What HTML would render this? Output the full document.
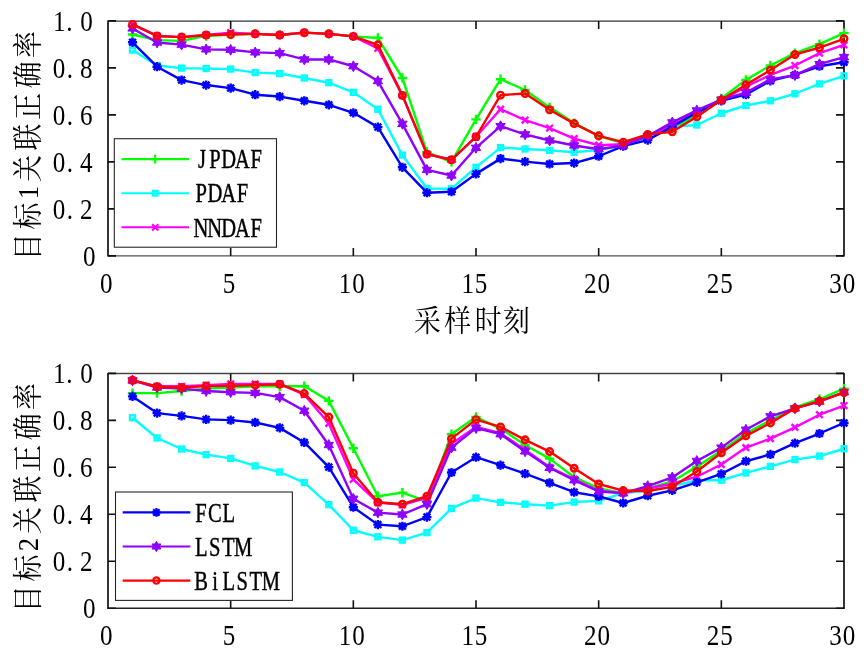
<!DOCTYPE html>
<html><head><meta charset="utf-8"><title>chart</title><style>html,body{margin:0;padding:0;background:#fff;}svg{display:block;}</style></head><body>
<svg width="868" height="657" viewBox="0 0 868 657">
<rect width="868" height="657" fill="#fff"/>
<g font-family="'Liberation Serif', serif" font-size="28.5" fill="#000">
<path d="M108.0 21.1H844.0" stroke="#333" stroke-width="1.3" fill="none"/>
<path d="M108.0 255.9H844.0" stroke="#555" stroke-width="1.4" fill="none"/>
<path d="M108.0 20.5V256.6M844.0 20.5V256.6" stroke="#111" stroke-width="1.7" fill="none"/>
<path d="M230.67 255.9V247.9M230.67 21.1V29.1M353.33 255.9V247.9M353.33 21.1V29.1M476 255.9V247.9M476 21.1V29.1M598.67 255.9V247.9M598.67 21.1V29.1M721.33 255.9V247.9M721.33 21.1V29.1M108.0 255.9H116.0M844.0 255.9H836.0M108.0 208.9H116.0M844.0 208.9H836.0M108.0 161.9H116.0M844.0 161.9H836.0M108.0 114.9H116.0M844.0 114.9H836.0M108.0 67.9H116.0M844.0 67.9H836.0M108.0 20.9H116.0M844.0 20.9H836.0" stroke="#111" stroke-width="1.6" fill="none"/>
<polyline points="132.53,34.53 157.07,40.17 181.6,40.88 206.13,35.94 230.67,34.53 255.2,33.83 279.73,35 304.27,32.65 328.8,33.83 353.33,36.41 377.87,38.06 402.4,78 426.93,152.03 451.47,161.9 476,119.37 500.53,79.18 525.07,89.99 549.6,107.38 574.13,123.13 598.67,136.05 623.2,143.1 647.73,136.05 672.27,129 696.8,114.9 721.33,98.45 745.87,79.89 770.4,65.55 794.93,53.09 819.47,44.16 844,33.12" fill="none" stroke="#00ff00" stroke-width="2.4" stroke-linejoin="round"/>
<path d="M127.83 34.53H137.23M132.53 29.83V39.23" stroke="#00ff00" stroke-width="2.4" fill="none"/>
<path d="M152.37 40.17H161.77M157.07 35.47V44.87" stroke="#00ff00" stroke-width="2.4" fill="none"/>
<path d="M176.9 40.88H186.3M181.6 36.17V45.58" stroke="#00ff00" stroke-width="2.4" fill="none"/>
<path d="M201.43 35.94H210.83M206.13 31.24V40.64" stroke="#00ff00" stroke-width="2.4" fill="none"/>
<path d="M225.97 34.53H235.37M230.67 29.83V39.23" stroke="#00ff00" stroke-width="2.4" fill="none"/>
<path d="M250.5 33.83H259.9M255.2 29.13V38.53" stroke="#00ff00" stroke-width="2.4" fill="none"/>
<path d="M275.03 35H284.43M279.73 30.3V39.7" stroke="#00ff00" stroke-width="2.4" fill="none"/>
<path d="M299.57 32.65H308.97M304.27 27.95V37.35" stroke="#00ff00" stroke-width="2.4" fill="none"/>
<path d="M324.1 33.83H333.5M328.8 29.13V38.53" stroke="#00ff00" stroke-width="2.4" fill="none"/>
<path d="M348.63 36.41H358.03M353.33 31.71V41.11" stroke="#00ff00" stroke-width="2.4" fill="none"/>
<path d="M373.17 38.06H382.57M377.87 33.36V42.76" stroke="#00ff00" stroke-width="2.4" fill="none"/>
<path d="M397.7 78H407.1M402.4 73.3V82.7" stroke="#00ff00" stroke-width="2.4" fill="none"/>
<path d="M422.23 152.03H431.63M426.93 147.33V156.73" stroke="#00ff00" stroke-width="2.4" fill="none"/>
<path d="M446.77 161.9H456.17M451.47 157.2V166.6" stroke="#00ff00" stroke-width="2.4" fill="none"/>
<path d="M471.3 119.37H480.7M476 114.67V124.07" stroke="#00ff00" stroke-width="2.4" fill="none"/>
<path d="M495.83 79.18H505.23M500.53 74.48V83.88" stroke="#00ff00" stroke-width="2.4" fill="none"/>
<path d="M520.37 89.99H529.77M525.07 85.29V94.69" stroke="#00ff00" stroke-width="2.4" fill="none"/>
<path d="M544.9 107.38H554.3M549.6 102.68V112.08" stroke="#00ff00" stroke-width="2.4" fill="none"/>
<path d="M569.43 123.13H578.83M574.13 118.43V127.83" stroke="#00ff00" stroke-width="2.4" fill="none"/>
<path d="M593.97 136.05H603.37M598.67 131.35V140.75" stroke="#00ff00" stroke-width="2.4" fill="none"/>
<path d="M618.5 143.1H627.9M623.2 138.4V147.8" stroke="#00ff00" stroke-width="2.4" fill="none"/>
<path d="M643.03 136.05H652.43M647.73 131.35V140.75" stroke="#00ff00" stroke-width="2.4" fill="none"/>
<path d="M667.57 129H676.97M672.27 124.3V133.7" stroke="#00ff00" stroke-width="2.4" fill="none"/>
<path d="M692.1 114.9H701.5M696.8 110.2V119.6" stroke="#00ff00" stroke-width="2.4" fill="none"/>
<path d="M716.63 98.45H726.03M721.33 93.75V103.15" stroke="#00ff00" stroke-width="2.4" fill="none"/>
<path d="M741.17 79.89H750.57M745.87 75.19V84.59" stroke="#00ff00" stroke-width="2.4" fill="none"/>
<path d="M765.7 65.55H775.1M770.4 60.85V70.25" stroke="#00ff00" stroke-width="2.4" fill="none"/>
<path d="M790.23 53.09H799.63M794.93 48.39V57.8" stroke="#00ff00" stroke-width="2.4" fill="none"/>
<path d="M814.77 44.16H824.17M819.47 39.46V48.86" stroke="#00ff00" stroke-width="2.4" fill="none"/>
<path d="M839.3 33.12H848.7M844 28.42V37.82" stroke="#00ff00" stroke-width="2.4" fill="none"/>
<polyline points="132.53,50.04 157.07,65.55 181.6,68.13 206.13,68.6 230.67,69.07 255.2,72.6 279.73,73.54 304.27,78 328.8,82.71 353.33,92.34 377.87,109.26 402.4,155.09 426.93,188.46 451.47,188.69 476,167.31 500.53,147.56 525.07,148.98 549.6,150.38 574.13,152.26 598.67,150.15 623.2,145.45 647.73,138.4 672.27,126.65 696.8,125 721.33,113.25 745.87,105.5 770.4,100.8 794.93,93.75 819.47,83.88 844,75.89" fill="none" stroke="#00ffff" stroke-width="2.4" stroke-linejoin="round"/>
<rect x="130.08" y="47.59" width="4.9" height="4.9" stroke="#00ffff" stroke-width="2.4" fill="none"/>
<rect x="154.62" y="63.1" width="4.9" height="4.9" stroke="#00ffff" stroke-width="2.4" fill="none"/>
<rect x="179.15" y="65.68" width="4.9" height="4.9" stroke="#00ffff" stroke-width="2.4" fill="none"/>
<rect x="203.68" y="66.15" width="4.9" height="4.9" stroke="#00ffff" stroke-width="2.4" fill="none"/>
<rect x="228.22" y="66.62" width="4.9" height="4.9" stroke="#00ffff" stroke-width="2.4" fill="none"/>
<rect x="252.75" y="70.15" width="4.9" height="4.9" stroke="#00ffff" stroke-width="2.4" fill="none"/>
<rect x="277.28" y="71.09" width="4.9" height="4.9" stroke="#00ffff" stroke-width="2.4" fill="none"/>
<rect x="301.82" y="75.55" width="4.9" height="4.9" stroke="#00ffff" stroke-width="2.4" fill="none"/>
<rect x="326.35" y="80.26" width="4.9" height="4.9" stroke="#00ffff" stroke-width="2.4" fill="none"/>
<rect x="350.88" y="89.89" width="4.9" height="4.9" stroke="#00ffff" stroke-width="2.4" fill="none"/>
<rect x="375.42" y="106.81" width="4.9" height="4.9" stroke="#00ffff" stroke-width="2.4" fill="none"/>
<rect x="399.95" y="152.64" width="4.9" height="4.9" stroke="#00ffff" stroke-width="2.4" fill="none"/>
<rect x="424.48" y="186.01" width="4.9" height="4.9" stroke="#00ffff" stroke-width="2.4" fill="none"/>
<rect x="449.02" y="186.24" width="4.9" height="4.9" stroke="#00ffff" stroke-width="2.4" fill="none"/>
<rect x="473.55" y="164.86" width="4.9" height="4.9" stroke="#00ffff" stroke-width="2.4" fill="none"/>
<rect x="498.08" y="145.12" width="4.9" height="4.9" stroke="#00ffff" stroke-width="2.4" fill="none"/>
<rect x="522.62" y="146.53" width="4.9" height="4.9" stroke="#00ffff" stroke-width="2.4" fill="none"/>
<rect x="547.15" y="147.94" width="4.9" height="4.9" stroke="#00ffff" stroke-width="2.4" fill="none"/>
<rect x="571.68" y="149.81" width="4.9" height="4.9" stroke="#00ffff" stroke-width="2.4" fill="none"/>
<rect x="596.22" y="147.7" width="4.9" height="4.9" stroke="#00ffff" stroke-width="2.4" fill="none"/>
<rect x="620.75" y="143" width="4.9" height="4.9" stroke="#00ffff" stroke-width="2.4" fill="none"/>
<rect x="645.28" y="135.95" width="4.9" height="4.9" stroke="#00ffff" stroke-width="2.4" fill="none"/>
<rect x="669.82" y="124.2" width="4.9" height="4.9" stroke="#00ffff" stroke-width="2.4" fill="none"/>
<rect x="694.35" y="122.55" width="4.9" height="4.9" stroke="#00ffff" stroke-width="2.4" fill="none"/>
<rect x="718.88" y="110.8" width="4.9" height="4.9" stroke="#00ffff" stroke-width="2.4" fill="none"/>
<rect x="743.42" y="103.05" width="4.9" height="4.9" stroke="#00ffff" stroke-width="2.4" fill="none"/>
<rect x="767.95" y="98.35" width="4.9" height="4.9" stroke="#00ffff" stroke-width="2.4" fill="none"/>
<rect x="792.48" y="91.3" width="4.9" height="4.9" stroke="#00ffff" stroke-width="2.4" fill="none"/>
<rect x="817.02" y="81.43" width="4.9" height="4.9" stroke="#00ffff" stroke-width="2.4" fill="none"/>
<rect x="841.55" y="73.44" width="4.9" height="4.9" stroke="#00ffff" stroke-width="2.4" fill="none"/>
<polyline points="132.53,24.43 157.07,35.94 181.6,37.11 206.13,35 230.67,32.65 255.2,33.83 279.73,35 304.27,32.65 328.8,33.83 353.33,36.41 377.87,48.4 402.4,95.39 426.93,154.15 451.47,159.79 476,136.75 500.53,109.26 525.07,120.07 549.6,128.06 574.13,138.63 598.67,145.22 623.2,144.28 647.73,136.05 672.27,125 696.8,112.55 721.33,100.33 745.87,86.7 770.4,74.95 794.93,65.55 819.47,53.09 844,44.87" fill="none" stroke="#ff00ff" stroke-width="2.4" stroke-linejoin="round"/>
<path d="M129.23 21.13L135.83 27.73M129.23 27.73L135.83 21.13" stroke="#ff00ff" stroke-width="2.4" fill="none"/>
<path d="M153.77 32.64L160.37 39.24M153.77 39.24L160.37 32.64" stroke="#ff00ff" stroke-width="2.4" fill="none"/>
<path d="M178.3 33.81L184.9 40.41M178.3 40.41L184.9 33.81" stroke="#ff00ff" stroke-width="2.4" fill="none"/>
<path d="M202.83 31.7L209.43 38.3M202.83 38.3L209.43 31.7" stroke="#ff00ff" stroke-width="2.4" fill="none"/>
<path d="M227.37 29.35L233.97 35.95M227.37 35.95L233.97 29.35" stroke="#ff00ff" stroke-width="2.4" fill="none"/>
<path d="M251.9 30.53L258.5 37.13M251.9 37.13L258.5 30.53" stroke="#ff00ff" stroke-width="2.4" fill="none"/>
<path d="M276.43 31.7L283.03 38.3M276.43 38.3L283.03 31.7" stroke="#ff00ff" stroke-width="2.4" fill="none"/>
<path d="M300.97 29.35L307.57 35.95M300.97 35.95L307.57 29.35" stroke="#ff00ff" stroke-width="2.4" fill="none"/>
<path d="M325.5 30.53L332.1 37.13M325.5 37.13L332.1 30.53" stroke="#ff00ff" stroke-width="2.4" fill="none"/>
<path d="M350.03 33.11L356.63 39.71M350.03 39.71L356.63 33.11" stroke="#ff00ff" stroke-width="2.4" fill="none"/>
<path d="M374.57 45.1L381.17 51.7M374.57 51.7L381.17 45.1" stroke="#ff00ff" stroke-width="2.4" fill="none"/>
<path d="M399.1 92.09L405.7 98.69M399.1 98.69L405.7 92.09" stroke="#ff00ff" stroke-width="2.4" fill="none"/>
<path d="M423.63 150.84L430.23 157.45M423.63 157.45L430.23 150.84" stroke="#ff00ff" stroke-width="2.4" fill="none"/>
<path d="M448.17 156.49L454.77 163.09M448.17 163.09L454.77 156.49" stroke="#ff00ff" stroke-width="2.4" fill="none"/>
<path d="M472.7 133.45L479.3 140.06M472.7 140.06L479.3 133.45" stroke="#ff00ff" stroke-width="2.4" fill="none"/>
<path d="M497.23 105.96L503.83 112.56M497.23 112.56L503.83 105.96" stroke="#ff00ff" stroke-width="2.4" fill="none"/>
<path d="M521.77 116.77L528.37 123.37M521.77 123.37L528.37 116.77" stroke="#ff00ff" stroke-width="2.4" fill="none"/>
<path d="M546.3 124.76L552.9 131.36M546.3 131.36L552.9 124.76" stroke="#ff00ff" stroke-width="2.4" fill="none"/>
<path d="M570.83 135.33L577.43 141.94M570.83 141.94L577.43 135.33" stroke="#ff00ff" stroke-width="2.4" fill="none"/>
<path d="M595.37 141.92L601.97 148.52M595.37 148.52L601.97 141.92" stroke="#ff00ff" stroke-width="2.4" fill="none"/>
<path d="M619.9 140.97L626.5 147.58M619.9 147.58L626.5 140.97" stroke="#ff00ff" stroke-width="2.4" fill="none"/>
<path d="M644.43 132.75L651.03 139.35M644.43 139.35L651.03 132.75" stroke="#ff00ff" stroke-width="2.4" fill="none"/>
<path d="M668.97 121.7L675.57 128.31M668.97 128.31L675.57 121.7" stroke="#ff00ff" stroke-width="2.4" fill="none"/>
<path d="M693.5 109.25L700.1 115.85M693.5 115.85L700.1 109.25" stroke="#ff00ff" stroke-width="2.4" fill="none"/>
<path d="M718.03 97.03L724.63 103.63M718.03 103.63L724.63 97.03" stroke="#ff00ff" stroke-width="2.4" fill="none"/>
<path d="M742.57 83.4L749.17 90M742.57 90L749.17 83.4" stroke="#ff00ff" stroke-width="2.4" fill="none"/>
<path d="M767.1 71.65L773.7 78.25M767.1 78.25L773.7 71.65" stroke="#ff00ff" stroke-width="2.4" fill="none"/>
<path d="M791.63 62.25L798.23 68.85M791.63 68.85L798.23 62.25" stroke="#ff00ff" stroke-width="2.4" fill="none"/>
<path d="M816.17 49.8L822.77 56.39M816.17 56.39L822.77 49.8" stroke="#ff00ff" stroke-width="2.4" fill="none"/>
<path d="M840.7 41.57L847.3 48.17M840.7 48.17L847.3 41.57" stroke="#ff00ff" stroke-width="2.4" fill="none"/>
<polyline points="132.53,42.28 157.07,66.72 181.6,80.12 206.13,85.06 230.67,88.11 255.2,94.69 279.73,96.57 304.27,100.8 328.8,104.8 353.33,112.78 377.87,127.12 402.4,167.31 426.93,192.69 451.47,191.75 476,173.88 500.53,158.61 525.07,161.67 549.6,164.01 574.13,163.07 598.67,156.26 623.2,146.16 647.73,140.05 672.27,126.65 696.8,112.55 721.33,100.8 745.87,94.69 770.4,80.83 794.93,74.95 819.47,66.25 844,62.26" fill="none" stroke="#0000ff" stroke-width="2.4" stroke-linejoin="round"/>
<path d="M127.93 42.28H137.13M132.53 37.68V46.88M129.13 38.88L135.93 45.68M129.13 45.68L135.93 38.88" stroke="#0000ff" stroke-width="2.4" fill="none"/>
<path d="M152.47 66.72H161.67M157.07 62.12V71.32M153.67 63.32L160.47 70.12M153.67 70.12L160.47 63.32" stroke="#0000ff" stroke-width="2.4" fill="none"/>
<path d="M177 80.12H186.2M181.6 75.52V84.72M178.2 76.72L185 83.52M178.2 83.52L185 76.72" stroke="#0000ff" stroke-width="2.4" fill="none"/>
<path d="M201.53 85.06H210.73M206.13 80.46V89.66M202.73 81.66L209.53 88.46M202.73 88.46L209.53 81.66" stroke="#0000ff" stroke-width="2.4" fill="none"/>
<path d="M226.07 88.11H235.27M230.67 83.51V92.71M227.27 84.71L234.07 91.51M227.27 91.51L234.07 84.71" stroke="#0000ff" stroke-width="2.4" fill="none"/>
<path d="M250.6 94.69H259.8M255.2 90.09V99.29M251.8 91.29L258.6 98.09M251.8 98.09L258.6 91.29" stroke="#0000ff" stroke-width="2.4" fill="none"/>
<path d="M275.13 96.57H284.33M279.73 91.97V101.17M276.33 93.17L283.13 99.97M276.33 99.97L283.13 93.17" stroke="#0000ff" stroke-width="2.4" fill="none"/>
<path d="M299.67 100.8H308.87M304.27 96.2V105.4M300.87 97.4L307.67 104.2M300.87 104.2L307.67 97.4" stroke="#0000ff" stroke-width="2.4" fill="none"/>
<path d="M324.2 104.8H333.4M328.8 100.2V109.4M325.4 101.4L332.2 108.2M325.4 108.2L332.2 101.4" stroke="#0000ff" stroke-width="2.4" fill="none"/>
<path d="M348.73 112.78H357.93M353.33 108.19V117.38M349.93 109.38L356.73 116.19M349.93 116.19L356.73 109.38" stroke="#0000ff" stroke-width="2.4" fill="none"/>
<path d="M373.27 127.12H382.47M377.87 122.52V131.72M374.47 123.72L381.27 130.52M374.47 130.52L381.27 123.72" stroke="#0000ff" stroke-width="2.4" fill="none"/>
<path d="M397.8 167.31H407M402.4 162.71V171.91M399 163.91L405.8 170.71M399 170.71L405.8 163.91" stroke="#0000ff" stroke-width="2.4" fill="none"/>
<path d="M422.33 192.69H431.53M426.93 188.09V197.28M423.53 189.28L430.33 196.09M423.53 196.09L430.33 189.28" stroke="#0000ff" stroke-width="2.4" fill="none"/>
<path d="M446.87 191.75H456.07M451.47 187.15V196.34M448.07 188.34L454.87 195.15M448.07 195.15L454.87 188.34" stroke="#0000ff" stroke-width="2.4" fill="none"/>
<path d="M471.4 173.88H480.6M476 169.28V178.48M472.6 170.48L479.4 177.28M472.6 177.28L479.4 170.48" stroke="#0000ff" stroke-width="2.4" fill="none"/>
<path d="M495.93 158.61H505.13M500.53 154.01V163.21M497.13 155.21L503.93 162.01M497.13 162.01L503.93 155.21" stroke="#0000ff" stroke-width="2.4" fill="none"/>
<path d="M520.47 161.67H529.67M525.07 157.07V166.27M521.67 158.27L528.47 165.07M521.67 165.07L528.47 158.27" stroke="#0000ff" stroke-width="2.4" fill="none"/>
<path d="M545 164.01H554.2M549.6 159.41V168.61M546.2 160.61L553 167.41M546.2 167.41L553 160.61" stroke="#0000ff" stroke-width="2.4" fill="none"/>
<path d="M569.53 163.07H578.73M574.13 158.47V167.67M570.73 159.67L577.53 166.47M570.73 166.47L577.53 159.67" stroke="#0000ff" stroke-width="2.4" fill="none"/>
<path d="M594.07 156.26H603.27M598.67 151.66V160.86M595.27 152.86L602.07 159.66M595.27 159.66L602.07 152.86" stroke="#0000ff" stroke-width="2.4" fill="none"/>
<path d="M618.6 146.16H627.8M623.2 141.56V150.75M619.8 142.75L626.6 149.56M619.8 149.56L626.6 142.75" stroke="#0000ff" stroke-width="2.4" fill="none"/>
<path d="M643.13 140.05H652.33M647.73 135.45V144.65M644.33 136.65L651.13 143.45M644.33 143.45L651.13 136.65" stroke="#0000ff" stroke-width="2.4" fill="none"/>
<path d="M667.67 126.65H676.87M672.27 122.05V131.25M668.87 123.25L675.67 130.05M668.87 130.05L675.67 123.25" stroke="#0000ff" stroke-width="2.4" fill="none"/>
<path d="M692.2 112.55H701.4M696.8 107.95V117.15M693.4 109.15L700.2 115.95M693.4 115.95L700.2 109.15" stroke="#0000ff" stroke-width="2.4" fill="none"/>
<path d="M716.73 100.8H725.93M721.33 96.2V105.4M717.93 97.4L724.73 104.2M717.93 104.2L724.73 97.4" stroke="#0000ff" stroke-width="2.4" fill="none"/>
<path d="M741.27 94.69H750.47M745.87 90.09V99.29M742.47 91.29L749.27 98.09M742.47 98.09L749.27 91.29" stroke="#0000ff" stroke-width="2.4" fill="none"/>
<path d="M765.8 80.83H775M770.4 76.23V85.43M767 77.43L773.8 84.23M767 84.23L773.8 77.43" stroke="#0000ff" stroke-width="2.4" fill="none"/>
<path d="M790.33 74.95H799.53M794.93 70.35V79.55M791.53 71.55L798.33 78.35M791.53 78.35L798.33 71.55" stroke="#0000ff" stroke-width="2.4" fill="none"/>
<path d="M814.87 66.25H824.07M819.47 61.65V70.85M816.07 62.85L822.87 69.66M816.07 69.66L822.87 62.85" stroke="#0000ff" stroke-width="2.4" fill="none"/>
<path d="M839.4 62.26H848.6M844 57.66V66.86M840.6 58.86L847.4 65.66M840.6 65.66L847.4 58.86" stroke="#0000ff" stroke-width="2.4" fill="none"/>
<polyline points="132.53,28.42 157.07,42.52 181.6,44.63 206.13,49.34 230.67,49.81 255.2,52.39 279.73,53.09 304.27,59.44 328.8,59.44 353.33,66.25 377.87,81.06 402.4,123.83 426.93,169.89 451.47,175.53 476,147.8 500.53,126.18 525.07,134.41 549.6,140.51 574.13,145.45 598.67,149.21 623.2,145.45 647.73,136.05 672.27,122.42 696.8,110.44 721.33,99.62 745.87,92.58 770.4,79.41 794.93,75.19 819.47,64.14 844,57.09" fill="none" stroke="#9000ff" stroke-width="2.4" stroke-linejoin="round"/>
<polygon points="132.53,23.02 134.03,25.82 137.21,25.72 135.53,28.42 137.21,31.12 134.03,31.02 132.53,33.82 131.03,31.02 127.86,31.12 129.53,28.42 127.86,25.72 131.03,25.82" fill="#9000ff" stroke="#9000ff" stroke-width="1"/>
<polygon points="157.07,37.12 158.57,39.92 161.74,39.82 160.07,42.52 161.74,45.22 158.57,45.12 157.07,47.92 155.57,45.12 152.39,45.22 154.07,42.52 152.39,39.82 155.57,39.92" fill="#9000ff" stroke="#9000ff" stroke-width="1"/>
<polygon points="181.6,39.23 183.1,42.04 186.28,41.93 184.6,44.63 186.28,47.33 183.1,47.23 181.6,50.03 180.1,47.23 176.92,47.33 178.6,44.63 176.92,41.93 180.1,42.04" fill="#9000ff" stroke="#9000ff" stroke-width="1"/>
<polygon points="206.13,43.94 207.63,46.74 210.81,46.64 209.13,49.34 210.81,52.04 207.63,51.93 206.13,54.74 204.63,51.93 201.46,52.04 203.13,49.34 201.46,46.64 204.63,46.74" fill="#9000ff" stroke="#9000ff" stroke-width="1"/>
<polygon points="230.67,44.41 232.17,47.21 235.34,47.11 233.67,49.81 235.34,52.51 232.17,52.4 230.67,55.21 229.17,52.4 225.99,52.51 227.67,49.81 225.99,47.11 229.17,47.21" fill="#9000ff" stroke="#9000ff" stroke-width="1"/>
<polygon points="255.2,46.99 256.7,49.79 259.88,49.69 258.2,52.39 259.88,55.09 256.7,54.99 255.2,57.79 253.7,54.99 250.52,55.09 252.2,52.39 250.52,49.69 253.7,49.79" fill="#9000ff" stroke="#9000ff" stroke-width="1"/>
<polygon points="279.73,47.7 281.23,50.5 284.41,50.39 282.73,53.09 284.41,55.8 281.23,55.69 279.73,58.49 278.23,55.69 275.06,55.8 276.73,53.09 275.06,50.39 278.23,50.5" fill="#9000ff" stroke="#9000ff" stroke-width="1"/>
<polygon points="304.27,54.04 305.77,56.84 308.94,56.74 307.27,59.44 308.94,62.14 305.77,62.04 304.27,64.84 302.77,62.04 299.59,62.14 301.27,59.44 299.59,56.74 302.77,56.84" fill="#9000ff" stroke="#9000ff" stroke-width="1"/>
<polygon points="328.8,54.04 330.3,56.84 333.48,56.74 331.8,59.44 333.48,62.14 330.3,62.04 328.8,64.84 327.3,62.04 324.12,62.14 325.8,59.44 324.12,56.74 327.3,56.84" fill="#9000ff" stroke="#9000ff" stroke-width="1"/>
<polygon points="353.33,60.85 354.83,63.66 358.01,63.55 356.33,66.25 358.01,68.95 354.83,68.85 353.33,71.66 351.83,68.85 348.66,68.95 350.33,66.25 348.66,63.55 351.83,63.66" fill="#9000ff" stroke="#9000ff" stroke-width="1"/>
<polygon points="377.87,75.66 379.37,78.46 382.54,78.36 380.87,81.06 382.54,83.76 379.37,83.66 377.87,86.46 376.37,83.66 373.19,83.76 374.87,81.06 373.19,78.36 376.37,78.46" fill="#9000ff" stroke="#9000ff" stroke-width="1"/>
<polygon points="402.4,118.43 403.9,121.23 407.08,121.13 405.4,123.83 407.08,126.53 403.9,126.43 402.4,129.23 400.9,126.43 397.72,126.53 399.4,123.83 397.72,121.13 400.9,121.23" fill="#9000ff" stroke="#9000ff" stroke-width="1"/>
<polygon points="426.93,164.49 428.43,167.29 431.61,167.19 429.93,169.89 431.61,172.59 428.43,172.49 426.93,175.29 425.43,172.49 422.26,172.59 423.93,169.89 422.26,167.19 425.43,167.29" fill="#9000ff" stroke="#9000ff" stroke-width="1"/>
<polygon points="451.47,170.13 452.97,172.93 456.14,172.83 454.47,175.53 456.14,178.23 452.97,178.13 451.47,180.93 449.97,178.13 446.79,178.23 448.47,175.53 446.79,172.83 449.97,172.93" fill="#9000ff" stroke="#9000ff" stroke-width="1"/>
<polygon points="476,142.4 477.5,145.2 480.68,145.1 479,147.8 480.68,150.5 477.5,150.4 476,153.2 474.5,150.4 471.32,150.5 473,147.8 471.32,145.1 474.5,145.2" fill="#9000ff" stroke="#9000ff" stroke-width="1"/>
<polygon points="500.53,120.78 502.03,123.58 505.21,123.48 503.53,126.18 505.21,128.88 502.03,128.78 500.53,131.58 499.03,128.78 495.86,128.88 497.53,126.18 495.86,123.48 499.03,123.58" fill="#9000ff" stroke="#9000ff" stroke-width="1"/>
<polygon points="525.07,129 526.57,131.81 529.74,131.71 528.07,134.41 529.74,137.1 526.57,137 525.07,139.81 523.57,137 520.39,137.1 522.07,134.41 520.39,131.71 523.57,131.81" fill="#9000ff" stroke="#9000ff" stroke-width="1"/>
<polygon points="549.6,135.11 551.1,137.92 554.28,137.81 552.6,140.51 554.28,143.21 551.1,143.11 549.6,145.91 548.1,143.11 544.92,143.21 546.6,140.51 544.92,137.81 548.1,137.92" fill="#9000ff" stroke="#9000ff" stroke-width="1"/>
<polygon points="574.13,140.05 575.63,142.85 578.81,142.75 577.13,145.45 578.81,148.15 575.63,148.05 574.13,150.85 572.63,148.05 569.46,148.15 571.13,145.45 569.46,142.75 572.63,142.85" fill="#9000ff" stroke="#9000ff" stroke-width="1"/>
<polygon points="598.67,143.81 600.17,146.61 603.34,146.51 601.67,149.21 603.34,151.91 600.17,151.81 598.67,154.61 597.17,151.81 593.99,151.91 595.67,149.21 593.99,146.51 597.17,146.61" fill="#9000ff" stroke="#9000ff" stroke-width="1"/>
<polygon points="623.2,140.05 624.7,142.85 627.88,142.75 626.2,145.45 627.88,148.15 624.7,148.05 623.2,150.85 621.7,148.05 618.52,148.15 620.2,145.45 618.52,142.75 621.7,142.85" fill="#9000ff" stroke="#9000ff" stroke-width="1"/>
<polygon points="647.73,130.65 649.23,133.45 652.41,133.35 650.73,136.05 652.41,138.75 649.23,138.65 647.73,141.45 646.23,138.65 643.06,138.75 644.73,136.05 643.06,133.35 646.23,133.45" fill="#9000ff" stroke="#9000ff" stroke-width="1"/>
<polygon points="672.27,117.02 673.77,119.82 676.94,119.72 675.27,122.42 676.94,125.12 673.77,125.02 672.27,127.82 670.77,125.02 667.59,125.12 669.27,122.42 667.59,119.72 670.77,119.82" fill="#9000ff" stroke="#9000ff" stroke-width="1"/>
<polygon points="696.8,105.03 698.3,107.84 701.48,107.73 699.8,110.44 701.48,113.14 698.3,113.03 696.8,115.84 695.3,113.03 692.12,113.14 693.8,110.44 692.12,107.73 695.3,107.84" fill="#9000ff" stroke="#9000ff" stroke-width="1"/>
<polygon points="721.33,94.22 722.83,97.03 726.01,96.92 724.33,99.62 726.01,102.33 722.83,102.22 721.33,105.03 719.83,102.22 716.66,102.33 718.33,99.62 716.66,96.92 719.83,97.03" fill="#9000ff" stroke="#9000ff" stroke-width="1"/>
<polygon points="745.87,87.18 747.37,89.98 750.54,89.88 748.87,92.58 750.54,95.28 747.37,95.17 745.87,97.98 744.37,95.17 741.19,95.28 742.87,92.58 741.19,89.88 744.37,89.98" fill="#9000ff" stroke="#9000ff" stroke-width="1"/>
<polygon points="770.4,74.01 771.9,76.82 775.08,76.71 773.4,79.41 775.08,82.11 771.9,82.01 770.4,84.81 768.9,82.01 765.72,82.11 767.4,79.41 765.72,76.71 768.9,76.82" fill="#9000ff" stroke="#9000ff" stroke-width="1"/>
<polygon points="794.93,69.78 796.43,72.59 799.61,72.48 797.93,75.19 799.61,77.89 796.43,77.78 794.93,80.59 793.43,77.78 790.26,77.89 791.93,75.19 790.26,72.48 793.43,72.59" fill="#9000ff" stroke="#9000ff" stroke-width="1"/>
<polygon points="819.47,58.74 820.97,61.54 824.14,61.44 822.47,64.14 824.14,66.84 820.97,66.74 819.47,69.54 817.97,66.74 814.79,66.84 816.47,64.14 814.79,61.44 817.97,61.54" fill="#9000ff" stroke="#9000ff" stroke-width="1"/>
<polygon points="844,51.69 845.5,54.49 848.68,54.39 847,57.09 848.68,59.79 845.5,59.69 844,62.49 842.5,59.69 839.32,59.79 841,57.09 839.32,54.39 842.5,54.49" fill="#9000ff" stroke="#9000ff" stroke-width="1"/>
<polyline points="132.53,24.43 157.07,35.94 181.6,37.11 206.13,35 230.67,34.53 255.2,33.83 279.73,35 304.27,32.65 328.8,33.83 353.33,36.41 377.87,44.87 402.4,95.39 426.93,154.15 451.47,159.79 476,136.75 500.53,95.16 525.07,93.52 549.6,109.73 574.13,123.6 598.67,135.81 623.2,142.16 647.73,134.41 672.27,131.82 696.8,116.78 721.33,100.09 745.87,84.82 770.4,70.01 794.93,54.5 819.47,47.69 844,38.76" fill="none" stroke="#ff0000" stroke-width="2.4" stroke-linejoin="round"/>
<circle cx="132.53" cy="24.43" r="3.3" stroke="#ff0000" stroke-width="2.4" fill="none"/>
<circle cx="157.07" cy="35.94" r="3.3" stroke="#ff0000" stroke-width="2.4" fill="none"/>
<circle cx="181.6" cy="37.11" r="3.3" stroke="#ff0000" stroke-width="2.4" fill="none"/>
<circle cx="206.13" cy="35" r="3.3" stroke="#ff0000" stroke-width="2.4" fill="none"/>
<circle cx="230.67" cy="34.53" r="3.3" stroke="#ff0000" stroke-width="2.4" fill="none"/>
<circle cx="255.2" cy="33.83" r="3.3" stroke="#ff0000" stroke-width="2.4" fill="none"/>
<circle cx="279.73" cy="35" r="3.3" stroke="#ff0000" stroke-width="2.4" fill="none"/>
<circle cx="304.27" cy="32.65" r="3.3" stroke="#ff0000" stroke-width="2.4" fill="none"/>
<circle cx="328.8" cy="33.83" r="3.3" stroke="#ff0000" stroke-width="2.4" fill="none"/>
<circle cx="353.33" cy="36.41" r="3.3" stroke="#ff0000" stroke-width="2.4" fill="none"/>
<circle cx="377.87" cy="44.87" r="3.3" stroke="#ff0000" stroke-width="2.4" fill="none"/>
<circle cx="402.4" cy="95.39" r="3.3" stroke="#ff0000" stroke-width="2.4" fill="none"/>
<circle cx="426.93" cy="154.15" r="3.3" stroke="#ff0000" stroke-width="2.4" fill="none"/>
<circle cx="451.47" cy="159.79" r="3.3" stroke="#ff0000" stroke-width="2.4" fill="none"/>
<circle cx="476" cy="136.75" r="3.3" stroke="#ff0000" stroke-width="2.4" fill="none"/>
<circle cx="500.53" cy="95.16" r="3.3" stroke="#ff0000" stroke-width="2.4" fill="none"/>
<circle cx="525.07" cy="93.52" r="3.3" stroke="#ff0000" stroke-width="2.4" fill="none"/>
<circle cx="549.6" cy="109.73" r="3.3" stroke="#ff0000" stroke-width="2.4" fill="none"/>
<circle cx="574.13" cy="123.6" r="3.3" stroke="#ff0000" stroke-width="2.4" fill="none"/>
<circle cx="598.67" cy="135.81" r="3.3" stroke="#ff0000" stroke-width="2.4" fill="none"/>
<circle cx="623.2" cy="142.16" r="3.3" stroke="#ff0000" stroke-width="2.4" fill="none"/>
<circle cx="647.73" cy="134.41" r="3.3" stroke="#ff0000" stroke-width="2.4" fill="none"/>
<circle cx="672.27" cy="131.82" r="3.3" stroke="#ff0000" stroke-width="2.4" fill="none"/>
<circle cx="696.8" cy="116.78" r="3.3" stroke="#ff0000" stroke-width="2.4" fill="none"/>
<circle cx="721.33" cy="100.09" r="3.3" stroke="#ff0000" stroke-width="2.4" fill="none"/>
<circle cx="745.87" cy="84.82" r="3.3" stroke="#ff0000" stroke-width="2.4" fill="none"/>
<circle cx="770.4" cy="70.01" r="3.3" stroke="#ff0000" stroke-width="2.4" fill="none"/>
<circle cx="794.93" cy="54.5" r="3.3" stroke="#ff0000" stroke-width="2.4" fill="none"/>
<circle cx="819.47" cy="47.69" r="3.3" stroke="#ff0000" stroke-width="2.4" fill="none"/>
<circle cx="844" cy="38.76" r="3.3" stroke="#ff0000" stroke-width="2.4" fill="none"/>
<text transform="scale(0.88 1)" x="60.26 75.41 91.28" y="30.6">1.0</text>
<text transform="scale(0.88 1)" x="59.92 75.76 90.94" y="77.6">0.8</text>
<text transform="scale(0.88 1)" x="59.92 75.76 90.94" y="124.6">0.6</text>
<text transform="scale(0.88 1)" x="59.92 75.76 90.94" y="171.6">0.4</text>
<text transform="scale(0.88 1)" x="59.92 75.76 90.94" y="218.6">0.2</text>
<text transform="scale(0.88 1)" x="94.24" y="265.6">0</text>
<text transform="scale(0.88 1)" x="113.78" y="292.6">0</text>
<text transform="scale(0.88 1)" x="253.18" y="292.6">5</text>
<text transform="scale(0.88 1)" x="384.9 400.24" y="292.6">10</text>
<text transform="scale(0.88 1)" x="524.3 539.64" y="292.6">15</text>
<text transform="scale(0.88 1)" x="663.69 679.03" y="292.6">20</text>
<text transform="scale(0.88 1)" x="803.08 818.42" y="292.6">25</text>
<text transform="scale(0.88 1)" x="942.48 957.82" y="292.6">30</text>
<rect x="114.3" y="138.7" width="162.2" height="108.5" fill="#fff" stroke="#262626" stroke-width="1.1"/>
<line x1="121.5" y1="159.1" x2="189.1" y2="159.1" stroke="#00ff00" stroke-width="2.1"/>
<path d="M150.73 159.1H159.66M155.2 154.63V163.56" stroke="#00ff00" stroke-width="2.2" fill="none"/>
<text transform="scale(0.74 1)" x="267.43 282.69 299.04 317.49 338.59" y="168.4" font-size="27.8" stroke="#000" stroke-width="0.45">JPDAF</text>
<line x1="121.5" y1="193.2" x2="189.1" y2="193.2" stroke="#00ffff" stroke-width="2.1"/>
<rect x="152.87" y="190.87" width="4.66" height="4.66" stroke="#00ffff" stroke-width="2.2" fill="none"/>
<text transform="scale(0.74 1)" x="264.05 280.39 298.84 319.94" y="202.5" font-size="27.8" stroke="#000" stroke-width="0.45">PDAF</text>
<line x1="121.5" y1="227.3" x2="189.1" y2="227.3" stroke="#ff00ff" stroke-width="2.1"/>
<path d="M152.06 224.17L158.33 230.44M152.06 230.44L158.33 224.17" stroke="#ff00ff" stroke-width="2.2" fill="none"/>
<text transform="scale(0.74 1)" x="261.5 280.15 299.04 317.49 338.59" y="236.6" font-size="27.8" stroke="#000" stroke-width="0.45">NNDAF</text>
<path d="M108.0 373.5H844.0" stroke="#444" stroke-width="1.3" fill="none"/>
<path d="M108.0 608.3H844.0" stroke="#222" stroke-width="1.4" fill="none"/>
<path d="M108.0 372.9V609M844.0 372.9V609" stroke="#111" stroke-width="1.7" fill="none"/>
<path d="M230.67 608.3V600.3M230.67 373.5V381.5M353.33 608.3V600.3M353.33 373.5V381.5M476 608.3V600.3M476 373.5V381.5M598.67 608.3V600.3M598.67 373.5V381.5M721.33 608.3V600.3M721.33 373.5V381.5M108.0 608.2H116.0M844.0 608.2H836.0M108.0 561.24H116.0M844.0 561.24H836.0M108.0 514.28H116.0M844.0 514.28H836.0M108.0 467.32H116.0M844.0 467.32H836.0M108.0 420.36H116.0M844.0 420.36H836.0M108.0 373.4H116.0M844.0 373.4H836.0" stroke="#111" stroke-width="1.6" fill="none"/>
<polyline points="132.53,393.12 157.07,393.12 181.6,391.01 206.13,388.66 230.67,387.49 255.2,386.31 279.73,386.31 304.27,386.08 328.8,400.87 353.33,448.3 377.87,496.2 402.4,492.68 426.93,501.37 451.47,434.21 476,417.07 500.53,428.58 525.07,445.01 549.6,458.63 574.13,477.18 598.67,488.45 623.2,493.15 647.73,488.45 672.27,481.41 696.8,466.62 721.33,450.88 745.87,433.27 770.4,420.36 794.93,407.45 819.47,399.23 844,388.66" fill="none" stroke="#00ff00" stroke-width="2.4" stroke-linejoin="round"/>
<path d="M127.83 393.12H137.23M132.53 388.42V397.82" stroke="#00ff00" stroke-width="2.4" fill="none"/>
<path d="M152.37 393.12H161.77M157.07 388.42V397.82" stroke="#00ff00" stroke-width="2.4" fill="none"/>
<path d="M176.9 391.01H186.3M181.6 386.31V395.71" stroke="#00ff00" stroke-width="2.4" fill="none"/>
<path d="M201.43 388.66H210.83M206.13 383.96V393.36" stroke="#00ff00" stroke-width="2.4" fill="none"/>
<path d="M225.97 387.49H235.37M230.67 382.79V392.19" stroke="#00ff00" stroke-width="2.4" fill="none"/>
<path d="M250.5 386.31H259.9M255.2 381.61V391.01" stroke="#00ff00" stroke-width="2.4" fill="none"/>
<path d="M275.03 386.31H284.43M279.73 381.61V391.01" stroke="#00ff00" stroke-width="2.4" fill="none"/>
<path d="M299.57 386.08H308.97M304.27 381.38V390.78" stroke="#00ff00" stroke-width="2.4" fill="none"/>
<path d="M324.1 400.87H333.5M328.8 396.17V405.57" stroke="#00ff00" stroke-width="2.4" fill="none"/>
<path d="M348.63 448.3H358.03M353.33 443.6V453" stroke="#00ff00" stroke-width="2.4" fill="none"/>
<path d="M373.17 496.2H382.57M377.87 491.5V500.9" stroke="#00ff00" stroke-width="2.4" fill="none"/>
<path d="M397.7 492.68H407.1M402.4 487.98V497.38" stroke="#00ff00" stroke-width="2.4" fill="none"/>
<path d="M422.23 501.37H431.63M426.93 496.67V506.07" stroke="#00ff00" stroke-width="2.4" fill="none"/>
<path d="M446.77 434.21H456.17M451.47 429.51V438.91" stroke="#00ff00" stroke-width="2.4" fill="none"/>
<path d="M471.3 417.07H480.7M476 412.37V421.77" stroke="#00ff00" stroke-width="2.4" fill="none"/>
<path d="M495.83 428.58H505.23M500.53 423.88V433.28" stroke="#00ff00" stroke-width="2.4" fill="none"/>
<path d="M520.37 445.01H529.77M525.07 440.31V449.71" stroke="#00ff00" stroke-width="2.4" fill="none"/>
<path d="M544.9 458.63H554.3M549.6 453.93V463.33" stroke="#00ff00" stroke-width="2.4" fill="none"/>
<path d="M569.43 477.18H578.83M574.13 472.48V481.88" stroke="#00ff00" stroke-width="2.4" fill="none"/>
<path d="M593.97 488.45H603.37M598.67 483.75V493.15" stroke="#00ff00" stroke-width="2.4" fill="none"/>
<path d="M618.5 493.15H627.9M623.2 488.45V497.85" stroke="#00ff00" stroke-width="2.4" fill="none"/>
<path d="M643.03 488.45H652.43M647.73 483.75V493.15" stroke="#00ff00" stroke-width="2.4" fill="none"/>
<path d="M667.57 481.41H676.97M672.27 476.71V486.11" stroke="#00ff00" stroke-width="2.4" fill="none"/>
<path d="M692.1 466.62H701.5M696.8 461.92V471.32" stroke="#00ff00" stroke-width="2.4" fill="none"/>
<path d="M716.63 450.88H726.03M721.33 446.18V455.58" stroke="#00ff00" stroke-width="2.4" fill="none"/>
<path d="M741.17 433.27H750.57M745.87 428.57V437.97" stroke="#00ff00" stroke-width="2.4" fill="none"/>
<path d="M765.7 420.36H775.1M770.4 415.66V425.06" stroke="#00ff00" stroke-width="2.4" fill="none"/>
<path d="M790.23 407.45H799.63M794.93 402.75V412.15" stroke="#00ff00" stroke-width="2.4" fill="none"/>
<path d="M814.77 399.23H824.17M819.47 394.53V403.93" stroke="#00ff00" stroke-width="2.4" fill="none"/>
<path d="M839.3 388.66H848.7M844 383.96V393.36" stroke="#00ff00" stroke-width="2.4" fill="none"/>
<polyline points="132.53,417.78 157.07,437.97 181.6,449.01 206.13,454.64 230.67,458.4 255.2,465.91 279.73,472.02 304.27,482.58 328.8,504.65 353.33,530.25 377.87,536.82 402.4,540.11 426.93,532.59 451.47,508.41 476,498.08 500.53,502.31 525.07,504.18 549.6,505.59 574.13,502.07 598.67,500.9 623.2,493.15 647.73,490.8 672.27,486.1 696.8,480.23 721.33,480.23 745.87,472.96 770.4,466.38 794.93,459.57 819.47,456.05 844,448.77" fill="none" stroke="#00ffff" stroke-width="2.4" stroke-linejoin="round"/>
<rect x="130.08" y="415.33" width="4.9" height="4.9" stroke="#00ffff" stroke-width="2.4" fill="none"/>
<rect x="154.62" y="435.52" width="4.9" height="4.9" stroke="#00ffff" stroke-width="2.4" fill="none"/>
<rect x="179.15" y="446.56" width="4.9" height="4.9" stroke="#00ffff" stroke-width="2.4" fill="none"/>
<rect x="203.68" y="452.19" width="4.9" height="4.9" stroke="#00ffff" stroke-width="2.4" fill="none"/>
<rect x="228.22" y="455.95" width="4.9" height="4.9" stroke="#00ffff" stroke-width="2.4" fill="none"/>
<rect x="252.75" y="463.46" width="4.9" height="4.9" stroke="#00ffff" stroke-width="2.4" fill="none"/>
<rect x="277.28" y="469.57" width="4.9" height="4.9" stroke="#00ffff" stroke-width="2.4" fill="none"/>
<rect x="301.82" y="480.13" width="4.9" height="4.9" stroke="#00ffff" stroke-width="2.4" fill="none"/>
<rect x="326.35" y="502.2" width="4.9" height="4.9" stroke="#00ffff" stroke-width="2.4" fill="none"/>
<rect x="350.88" y="527.8" width="4.9" height="4.9" stroke="#00ffff" stroke-width="2.4" fill="none"/>
<rect x="375.42" y="534.37" width="4.9" height="4.9" stroke="#00ffff" stroke-width="2.4" fill="none"/>
<rect x="399.95" y="537.66" width="4.9" height="4.9" stroke="#00ffff" stroke-width="2.4" fill="none"/>
<rect x="424.48" y="530.14" width="4.9" height="4.9" stroke="#00ffff" stroke-width="2.4" fill="none"/>
<rect x="449.02" y="505.96" width="4.9" height="4.9" stroke="#00ffff" stroke-width="2.4" fill="none"/>
<rect x="473.55" y="495.63" width="4.9" height="4.9" stroke="#00ffff" stroke-width="2.4" fill="none"/>
<rect x="498.08" y="499.86" width="4.9" height="4.9" stroke="#00ffff" stroke-width="2.4" fill="none"/>
<rect x="522.62" y="501.73" width="4.9" height="4.9" stroke="#00ffff" stroke-width="2.4" fill="none"/>
<rect x="547.15" y="503.14" width="4.9" height="4.9" stroke="#00ffff" stroke-width="2.4" fill="none"/>
<rect x="571.68" y="499.62" width="4.9" height="4.9" stroke="#00ffff" stroke-width="2.4" fill="none"/>
<rect x="596.22" y="498.45" width="4.9" height="4.9" stroke="#00ffff" stroke-width="2.4" fill="none"/>
<rect x="620.75" y="490.7" width="4.9" height="4.9" stroke="#00ffff" stroke-width="2.4" fill="none"/>
<rect x="645.28" y="488.35" width="4.9" height="4.9" stroke="#00ffff" stroke-width="2.4" fill="none"/>
<rect x="669.82" y="483.65" width="4.9" height="4.9" stroke="#00ffff" stroke-width="2.4" fill="none"/>
<rect x="694.35" y="477.78" width="4.9" height="4.9" stroke="#00ffff" stroke-width="2.4" fill="none"/>
<rect x="718.88" y="477.78" width="4.9" height="4.9" stroke="#00ffff" stroke-width="2.4" fill="none"/>
<rect x="743.42" y="470.51" width="4.9" height="4.9" stroke="#00ffff" stroke-width="2.4" fill="none"/>
<rect x="767.95" y="463.93" width="4.9" height="4.9" stroke="#00ffff" stroke-width="2.4" fill="none"/>
<rect x="792.48" y="457.12" width="4.9" height="4.9" stroke="#00ffff" stroke-width="2.4" fill="none"/>
<rect x="817.02" y="453.6" width="4.9" height="4.9" stroke="#00ffff" stroke-width="2.4" fill="none"/>
<rect x="841.55" y="446.32" width="4.9" height="4.9" stroke="#00ffff" stroke-width="2.4" fill="none"/>
<polyline points="132.53,380.44 157.07,386.31 181.6,386.31 206.13,385.14 230.67,383.97 255.2,383.97 279.73,383.97 304.27,394.53 328.8,423.41 353.33,479.29 377.87,502.54 402.4,504.89 426.93,497.84 451.47,443.84 476,426.93 500.53,433.27 525.07,449.71 549.6,467.32 574.13,479.06 598.67,490.8 623.2,493.15 647.73,488.45 672.27,483.76 696.8,476.71 721.33,464.5 745.87,447.6 770.4,438.67 794.93,427.4 819.47,414.72 844,405.57" fill="none" stroke="#ff00ff" stroke-width="2.4" stroke-linejoin="round"/>
<path d="M129.23 377.14L135.83 383.74M129.23 383.74L135.83 377.14" stroke="#ff00ff" stroke-width="2.4" fill="none"/>
<path d="M153.77 383.01L160.37 389.61M153.77 389.61L160.37 383.01" stroke="#ff00ff" stroke-width="2.4" fill="none"/>
<path d="M178.3 383.01L184.9 389.61M178.3 389.61L184.9 383.01" stroke="#ff00ff" stroke-width="2.4" fill="none"/>
<path d="M202.83 381.84L209.43 388.44M202.83 388.44L209.43 381.84" stroke="#ff00ff" stroke-width="2.4" fill="none"/>
<path d="M227.37 380.67L233.97 387.27M227.37 387.27L233.97 380.67" stroke="#ff00ff" stroke-width="2.4" fill="none"/>
<path d="M251.9 380.67L258.5 387.27M251.9 387.27L258.5 380.67" stroke="#ff00ff" stroke-width="2.4" fill="none"/>
<path d="M276.43 380.67L283.03 387.27M276.43 387.27L283.03 380.67" stroke="#ff00ff" stroke-width="2.4" fill="none"/>
<path d="M300.97 391.23L307.57 397.83M300.97 397.83L307.57 391.23" stroke="#ff00ff" stroke-width="2.4" fill="none"/>
<path d="M325.5 420.11L332.1 426.71M325.5 426.71L332.1 420.11" stroke="#ff00ff" stroke-width="2.4" fill="none"/>
<path d="M350.03 475.99L356.63 482.59M350.03 482.59L356.63 475.99" stroke="#ff00ff" stroke-width="2.4" fill="none"/>
<path d="M374.57 499.24L381.17 505.84M374.57 505.84L381.17 499.24" stroke="#ff00ff" stroke-width="2.4" fill="none"/>
<path d="M399.1 501.59L405.7 508.19M399.1 508.19L405.7 501.59" stroke="#ff00ff" stroke-width="2.4" fill="none"/>
<path d="M423.63 494.54L430.23 501.14M423.63 501.14L430.23 494.54" stroke="#ff00ff" stroke-width="2.4" fill="none"/>
<path d="M448.17 440.54L454.77 447.14M448.17 447.14L454.77 440.54" stroke="#ff00ff" stroke-width="2.4" fill="none"/>
<path d="M472.7 423.63L479.3 430.23M472.7 430.23L479.3 423.63" stroke="#ff00ff" stroke-width="2.4" fill="none"/>
<path d="M497.23 429.97L503.83 436.57M497.23 436.57L503.83 429.97" stroke="#ff00ff" stroke-width="2.4" fill="none"/>
<path d="M521.77 446.41L528.37 453.01M521.77 453.01L528.37 446.41" stroke="#ff00ff" stroke-width="2.4" fill="none"/>
<path d="M546.3 464.02L552.9 470.62M546.3 470.62L552.9 464.02" stroke="#ff00ff" stroke-width="2.4" fill="none"/>
<path d="M570.83 475.76L577.43 482.36M570.83 482.36L577.43 475.76" stroke="#ff00ff" stroke-width="2.4" fill="none"/>
<path d="M595.37 487.5L601.97 494.1M595.37 494.1L601.97 487.5" stroke="#ff00ff" stroke-width="2.4" fill="none"/>
<path d="M619.9 489.85L626.5 496.45M619.9 496.45L626.5 489.85" stroke="#ff00ff" stroke-width="2.4" fill="none"/>
<path d="M644.43 485.15L651.03 491.75M644.43 491.75L651.03 485.15" stroke="#ff00ff" stroke-width="2.4" fill="none"/>
<path d="M668.97 480.46L675.57 487.06M668.97 487.06L675.57 480.46" stroke="#ff00ff" stroke-width="2.4" fill="none"/>
<path d="M693.5 473.41L700.1 480.01M693.5 480.01L700.1 473.41" stroke="#ff00ff" stroke-width="2.4" fill="none"/>
<path d="M718.03 461.2L724.63 467.8M718.03 467.8L724.63 461.2" stroke="#ff00ff" stroke-width="2.4" fill="none"/>
<path d="M742.57 444.3L749.17 450.9M742.57 450.9L749.17 444.3" stroke="#ff00ff" stroke-width="2.4" fill="none"/>
<path d="M767.1 435.37L773.7 441.97M767.1 441.97L773.7 435.37" stroke="#ff00ff" stroke-width="2.4" fill="none"/>
<path d="M791.63 424.1L798.23 430.7M791.63 430.7L798.23 424.1" stroke="#ff00ff" stroke-width="2.4" fill="none"/>
<path d="M816.17 411.42L822.77 418.02M816.17 418.02L822.77 411.42" stroke="#ff00ff" stroke-width="2.4" fill="none"/>
<path d="M840.7 402.27L847.3 408.87M840.7 408.87L847.3 402.27" stroke="#ff00ff" stroke-width="2.4" fill="none"/>
<polyline points="132.53,396.41 157.07,413.08 181.6,415.9 206.13,419.42 230.67,420.13 255.2,422.47 279.73,427.87 304.27,442.43 328.8,467.09 353.33,507.24 377.87,524.61 402.4,526.25 426.93,517.1 451.47,472.49 476,457.22 500.53,465.21 525.07,473.66 549.6,482.82 574.13,492.21 598.67,496.44 623.2,503.01 647.73,495.73 672.27,490.33 696.8,482.35 721.33,473.89 745.87,461.22 770.4,454.41 794.93,443.14 819.47,433.51 844,422.94" fill="none" stroke="#0000ff" stroke-width="2.4" stroke-linejoin="round"/>
<path d="M127.93 396.41H137.13M132.53 391.81V401.01M129.13 393.01L135.93 399.81M129.13 399.81L135.93 393.01" stroke="#0000ff" stroke-width="2.4" fill="none"/>
<path d="M152.47 413.08H161.67M157.07 408.48V417.68M153.67 409.68L160.47 416.48M153.67 416.48L160.47 409.68" stroke="#0000ff" stroke-width="2.4" fill="none"/>
<path d="M177 415.9H186.2M181.6 411.3V420.5M178.2 412.5L185 419.3M178.2 419.3L185 412.5" stroke="#0000ff" stroke-width="2.4" fill="none"/>
<path d="M201.53 419.42H210.73M206.13 414.82V424.02M202.73 416.02L209.53 422.82M202.73 422.82L209.53 416.02" stroke="#0000ff" stroke-width="2.4" fill="none"/>
<path d="M226.07 420.13H235.27M230.67 415.53V424.73M227.27 416.73L234.07 423.53M227.27 423.53L234.07 416.73" stroke="#0000ff" stroke-width="2.4" fill="none"/>
<path d="M250.6 422.47H259.8M255.2 417.87V427.07M251.8 419.07L258.6 425.87M251.8 425.87L258.6 419.07" stroke="#0000ff" stroke-width="2.4" fill="none"/>
<path d="M275.13 427.87H284.33M279.73 423.27V432.47M276.33 424.47L283.13 431.27M276.33 431.27L283.13 424.47" stroke="#0000ff" stroke-width="2.4" fill="none"/>
<path d="M299.67 442.43H308.87M304.27 437.83V447.03M300.87 439.03L307.67 445.83M300.87 445.83L307.67 439.03" stroke="#0000ff" stroke-width="2.4" fill="none"/>
<path d="M324.2 467.09H333.4M328.8 462.49V471.69M325.4 463.69L332.2 470.49M325.4 470.49L332.2 463.69" stroke="#0000ff" stroke-width="2.4" fill="none"/>
<path d="M348.73 507.24H357.93M353.33 502.64V511.84M349.93 503.84L356.73 510.64M349.93 510.64L356.73 503.84" stroke="#0000ff" stroke-width="2.4" fill="none"/>
<path d="M373.27 524.61H382.47M377.87 520.01V529.21M374.47 521.21L381.27 528.01M374.47 528.01L381.27 521.21" stroke="#0000ff" stroke-width="2.4" fill="none"/>
<path d="M397.8 526.25H407M402.4 521.65V530.85M399 522.85L405.8 529.65M399 529.65L405.8 522.85" stroke="#0000ff" stroke-width="2.4" fill="none"/>
<path d="M422.33 517.1H431.53M426.93 512.5V521.7M423.53 513.7L430.33 520.5M423.53 520.5L430.33 513.7" stroke="#0000ff" stroke-width="2.4" fill="none"/>
<path d="M446.87 472.49H456.07M451.47 467.89V477.09M448.07 469.09L454.87 475.89M448.07 475.89L454.87 469.09" stroke="#0000ff" stroke-width="2.4" fill="none"/>
<path d="M471.4 457.22H480.6M476 452.62V461.82M472.6 453.82L479.4 460.62M472.6 460.62L479.4 453.82" stroke="#0000ff" stroke-width="2.4" fill="none"/>
<path d="M495.93 465.21H505.13M500.53 460.61V469.81M497.13 461.81L503.93 468.61M497.13 468.61L503.93 461.81" stroke="#0000ff" stroke-width="2.4" fill="none"/>
<path d="M520.47 473.66H529.67M525.07 469.06V478.26M521.67 470.26L528.47 477.06M521.67 477.06L528.47 470.26" stroke="#0000ff" stroke-width="2.4" fill="none"/>
<path d="M545 482.82H554.2M549.6 478.22V487.42M546.2 479.42L553 486.22M546.2 486.22L553 479.42" stroke="#0000ff" stroke-width="2.4" fill="none"/>
<path d="M569.53 492.21H578.73M574.13 487.61V496.81M570.73 488.81L577.53 495.61M570.73 495.61L577.53 488.81" stroke="#0000ff" stroke-width="2.4" fill="none"/>
<path d="M594.07 496.44H603.27M598.67 491.84V501.04M595.27 493.04L602.07 499.84M595.27 499.84L602.07 493.04" stroke="#0000ff" stroke-width="2.4" fill="none"/>
<path d="M618.6 503.01H627.8M623.2 498.41V507.61M619.8 499.61L626.6 506.41M619.8 506.41L626.6 499.61" stroke="#0000ff" stroke-width="2.4" fill="none"/>
<path d="M643.13 495.73H652.33M647.73 491.13V500.33M644.33 492.33L651.13 499.13M644.33 499.13L651.13 492.33" stroke="#0000ff" stroke-width="2.4" fill="none"/>
<path d="M667.67 490.33H676.87M672.27 485.73V494.93M668.87 486.93L675.67 493.73M668.87 493.73L675.67 486.93" stroke="#0000ff" stroke-width="2.4" fill="none"/>
<path d="M692.2 482.35H701.4M696.8 477.75V486.95M693.4 478.95L700.2 485.75M693.4 485.75L700.2 478.95" stroke="#0000ff" stroke-width="2.4" fill="none"/>
<path d="M716.73 473.89H725.93M721.33 469.29V478.49M717.93 470.49L724.73 477.29M717.93 477.29L724.73 470.49" stroke="#0000ff" stroke-width="2.4" fill="none"/>
<path d="M741.27 461.22H750.47M745.87 456.62V465.82M742.47 457.82L749.27 464.62M742.47 464.62L749.27 457.82" stroke="#0000ff" stroke-width="2.4" fill="none"/>
<path d="M765.8 454.41H775M770.4 449.81V459.01M767 451.01L773.8 457.81M767 457.81L773.8 451.01" stroke="#0000ff" stroke-width="2.4" fill="none"/>
<path d="M790.33 443.14H799.53M794.93 438.54V447.74M791.53 439.74L798.33 446.54M791.53 446.54L798.33 439.74" stroke="#0000ff" stroke-width="2.4" fill="none"/>
<path d="M814.87 433.51H824.07M819.47 428.91V438.11M816.07 430.11L822.87 436.91M816.07 436.91L822.87 430.11" stroke="#0000ff" stroke-width="2.4" fill="none"/>
<path d="M839.4 422.94H848.6M844 418.34V427.54M840.6 419.54L847.4 426.34M840.6 426.34L847.4 419.54" stroke="#0000ff" stroke-width="2.4" fill="none"/>
<polyline points="132.53,380.44 157.07,387.49 181.6,388.66 206.13,391.01 230.67,392.18 255.2,392.89 279.73,397.11 304.27,410.73 328.8,445.01 353.33,498.78 377.87,512.64 402.4,514.51 426.93,504.18 451.47,447.6 476,428.11 500.53,434.21 525.07,451.35 549.6,467.79 574.13,480.23 598.67,491.5 623.2,493.15 647.73,486.1 672.27,477.42 696.8,460.98 721.33,447.6 745.87,429.75 770.4,416.37 794.93,408.39 819.47,401.58 844,392.18" fill="none" stroke="#9000ff" stroke-width="2.4" stroke-linejoin="round"/>
<polygon points="132.53,375.04 134.03,377.85 137.21,377.74 135.53,380.44 137.21,383.14 134.03,383.04 132.53,385.84 131.03,383.04 127.86,383.14 129.53,380.44 127.86,377.74 131.03,377.85" fill="#9000ff" stroke="#9000ff" stroke-width="1"/>
<polygon points="157.07,382.09 158.57,384.89 161.74,384.79 160.07,387.49 161.74,390.19 158.57,390.09 157.07,392.89 155.57,390.09 152.39,390.19 154.07,387.49 152.39,384.79 155.57,384.89" fill="#9000ff" stroke="#9000ff" stroke-width="1"/>
<polygon points="181.6,383.26 183.1,386.06 186.28,385.96 184.6,388.66 186.28,391.36 183.1,391.26 181.6,394.06 180.1,391.26 176.92,391.36 178.6,388.66 176.92,385.96 180.1,386.06" fill="#9000ff" stroke="#9000ff" stroke-width="1"/>
<polygon points="206.13,385.61 207.63,388.41 210.81,388.31 209.13,391.01 210.81,393.71 207.63,393.61 206.13,396.41 204.63,393.61 201.46,393.71 203.13,391.01 201.46,388.31 204.63,388.41" fill="#9000ff" stroke="#9000ff" stroke-width="1"/>
<polygon points="230.67,386.78 232.17,389.59 235.34,389.48 233.67,392.18 235.34,394.88 232.17,394.78 230.67,397.58 229.17,394.78 225.99,394.88 227.67,392.18 225.99,389.48 229.17,389.59" fill="#9000ff" stroke="#9000ff" stroke-width="1"/>
<polygon points="255.2,387.49 256.7,390.29 259.88,390.19 258.2,392.89 259.88,395.59 256.7,395.49 255.2,398.29 253.7,395.49 250.52,395.59 252.2,392.89 250.52,390.19 253.7,390.29" fill="#9000ff" stroke="#9000ff" stroke-width="1"/>
<polygon points="279.73,391.71 281.23,394.52 284.41,394.41 282.73,397.11 284.41,399.81 281.23,399.71 279.73,402.51 278.23,399.71 275.06,399.81 276.73,397.11 275.06,394.41 278.23,394.52" fill="#9000ff" stroke="#9000ff" stroke-width="1"/>
<polygon points="304.27,405.33 305.77,408.14 308.94,408.03 307.27,410.73 308.94,413.43 305.77,413.33 304.27,416.13 302.77,413.33 299.59,413.43 301.27,410.73 299.59,408.03 302.77,408.14" fill="#9000ff" stroke="#9000ff" stroke-width="1"/>
<polygon points="328.8,439.61 330.3,442.42 333.48,442.31 331.8,445.01 333.48,447.71 330.3,447.61 328.8,450.41 327.3,447.61 324.12,447.71 325.8,445.01 324.12,442.31 327.3,442.42" fill="#9000ff" stroke="#9000ff" stroke-width="1"/>
<polygon points="353.33,493.38 354.83,496.19 358.01,496.08 356.33,498.78 358.01,501.48 354.83,501.38 353.33,504.18 351.83,501.38 348.66,501.48 350.33,498.78 348.66,496.08 351.83,496.19" fill="#9000ff" stroke="#9000ff" stroke-width="1"/>
<polygon points="377.87,507.24 379.37,510.04 382.54,509.94 380.87,512.64 382.54,515.34 379.37,515.23 377.87,518.04 376.37,515.23 373.19,515.34 374.87,512.64 373.19,509.94 376.37,510.04" fill="#9000ff" stroke="#9000ff" stroke-width="1"/>
<polygon points="402.4,509.11 403.9,511.92 407.08,511.81 405.4,514.51 407.08,517.21 403.9,517.11 402.4,519.91 400.9,517.11 397.72,517.21 399.4,514.51 397.72,511.81 400.9,511.92" fill="#9000ff" stroke="#9000ff" stroke-width="1"/>
<polygon points="426.93,498.78 428.43,501.59 431.61,501.48 429.93,504.18 431.61,506.88 428.43,506.78 426.93,509.58 425.43,506.78 422.26,506.88 423.93,504.18 422.26,501.48 425.43,501.59" fill="#9000ff" stroke="#9000ff" stroke-width="1"/>
<polygon points="451.47,442.2 452.97,445 456.14,444.9 454.47,447.6 456.14,450.3 452.97,450.19 451.47,453 449.97,450.19 446.79,450.3 448.47,447.6 446.79,444.9 449.97,445" fill="#9000ff" stroke="#9000ff" stroke-width="1"/>
<polygon points="476,422.71 477.5,425.51 480.68,425.41 479,428.11 480.68,430.81 477.5,430.71 476,433.51 474.5,430.71 471.32,430.81 473,428.11 471.32,425.41 474.5,425.51" fill="#9000ff" stroke="#9000ff" stroke-width="1"/>
<polygon points="500.53,428.81 502.03,431.62 505.21,431.51 503.53,434.21 505.21,436.91 502.03,436.81 500.53,439.61 499.03,436.81 495.86,436.91 497.53,434.21 495.86,431.51 499.03,431.62" fill="#9000ff" stroke="#9000ff" stroke-width="1"/>
<polygon points="525.07,445.95 526.57,448.76 529.74,448.65 528.07,451.35 529.74,454.05 526.57,453.95 525.07,456.75 523.57,453.95 520.39,454.05 522.07,451.35 520.39,448.65 523.57,448.76" fill="#9000ff" stroke="#9000ff" stroke-width="1"/>
<polygon points="549.6,462.39 551.1,465.19 554.28,465.09 552.6,467.79 554.28,470.49 551.1,470.39 549.6,473.19 548.1,470.39 544.92,470.49 546.6,467.79 544.92,465.09 548.1,465.19" fill="#9000ff" stroke="#9000ff" stroke-width="1"/>
<polygon points="574.13,474.83 575.63,477.64 578.81,477.53 577.13,480.23 578.81,482.93 575.63,482.83 574.13,485.63 572.63,482.83 569.46,482.93 571.13,480.23 569.46,477.53 572.63,477.64" fill="#9000ff" stroke="#9000ff" stroke-width="1"/>
<polygon points="598.67,486.1 600.17,488.91 603.34,488.8 601.67,491.5 603.34,494.2 600.17,494.1 598.67,496.9 597.17,494.1 593.99,494.2 595.67,491.5 593.99,488.8 597.17,488.91" fill="#9000ff" stroke="#9000ff" stroke-width="1"/>
<polygon points="623.2,487.75 624.7,490.55 627.88,490.45 626.2,493.15 627.88,495.85 624.7,495.75 623.2,498.55 621.7,495.75 618.52,495.85 620.2,493.15 618.52,490.45 621.7,490.55" fill="#9000ff" stroke="#9000ff" stroke-width="1"/>
<polygon points="647.73,480.7 649.23,483.51 652.41,483.4 650.73,486.1 652.41,488.8 649.23,488.7 647.73,491.5 646.23,488.7 643.06,488.8 644.73,486.1 643.06,483.4 646.23,483.51" fill="#9000ff" stroke="#9000ff" stroke-width="1"/>
<polygon points="672.27,472.02 673.77,474.82 676.94,474.72 675.27,477.42 676.94,480.12 673.77,480.01 672.27,482.82 670.77,480.01 667.59,480.12 669.27,477.42 667.59,474.72 670.77,474.82" fill="#9000ff" stroke="#9000ff" stroke-width="1"/>
<polygon points="696.8,455.58 698.3,458.38 701.48,458.28 699.8,460.98 701.48,463.68 698.3,463.58 696.8,466.38 695.3,463.58 692.12,463.68 693.8,460.98 692.12,458.28 695.3,458.38" fill="#9000ff" stroke="#9000ff" stroke-width="1"/>
<polygon points="721.33,442.2 722.83,445 726.01,444.9 724.33,447.6 726.01,450.3 722.83,450.19 721.33,453 719.83,450.19 716.66,450.3 718.33,447.6 716.66,444.9 719.83,445" fill="#9000ff" stroke="#9000ff" stroke-width="1"/>
<polygon points="745.87,424.35 747.37,427.15 750.54,427.05 748.87,429.75 750.54,432.45 747.37,432.35 745.87,435.15 744.37,432.35 741.19,432.45 742.87,429.75 741.19,427.05 744.37,427.15" fill="#9000ff" stroke="#9000ff" stroke-width="1"/>
<polygon points="770.4,410.97 771.9,413.77 775.08,413.67 773.4,416.37 775.08,419.07 771.9,418.97 770.4,421.77 768.9,418.97 765.72,419.07 767.4,416.37 765.72,413.67 768.9,413.77" fill="#9000ff" stroke="#9000ff" stroke-width="1"/>
<polygon points="794.93,402.99 796.43,405.79 799.61,405.69 797.93,408.39 799.61,411.09 796.43,410.98 794.93,413.79 793.43,410.98 790.26,411.09 791.93,408.39 790.26,405.69 793.43,405.79" fill="#9000ff" stroke="#9000ff" stroke-width="1"/>
<polygon points="819.47,396.18 820.97,398.98 824.14,398.88 822.47,401.58 824.14,404.28 820.97,404.17 819.47,406.98 817.97,404.17 814.79,404.28 816.47,401.58 814.79,398.88 817.97,398.98" fill="#9000ff" stroke="#9000ff" stroke-width="1"/>
<polygon points="844,386.78 845.5,389.59 848.68,389.48 847,392.18 848.68,394.88 845.5,394.78 844,397.58 842.5,394.78 839.32,394.88 841,392.18 839.32,389.48 842.5,389.59" fill="#9000ff" stroke="#9000ff" stroke-width="1"/>
<polyline points="132.53,380.21 157.07,386.78 181.6,387.49 206.13,386.08 230.67,385.84 255.2,385.14 279.73,384.2 304.27,393.59 328.8,417.07 353.33,473.19 377.87,502.31 402.4,504.18 426.93,496.2 451.47,438.67 476,419.66 500.53,426.93 525.07,439.85 549.6,451.59 574.13,468.26 598.67,483.99 623.2,490.57 647.73,491.03 672.27,486.81 696.8,471.55 721.33,452.76 745.87,435.86 770.4,422.94 794.93,408.39 819.47,401.11 844,392.65" fill="none" stroke="#ff0000" stroke-width="2.4" stroke-linejoin="round"/>
<circle cx="132.53" cy="380.21" r="3.3" stroke="#ff0000" stroke-width="2.4" fill="none"/>
<circle cx="157.07" cy="386.78" r="3.3" stroke="#ff0000" stroke-width="2.4" fill="none"/>
<circle cx="181.6" cy="387.49" r="3.3" stroke="#ff0000" stroke-width="2.4" fill="none"/>
<circle cx="206.13" cy="386.08" r="3.3" stroke="#ff0000" stroke-width="2.4" fill="none"/>
<circle cx="230.67" cy="385.84" r="3.3" stroke="#ff0000" stroke-width="2.4" fill="none"/>
<circle cx="255.2" cy="385.14" r="3.3" stroke="#ff0000" stroke-width="2.4" fill="none"/>
<circle cx="279.73" cy="384.2" r="3.3" stroke="#ff0000" stroke-width="2.4" fill="none"/>
<circle cx="304.27" cy="393.59" r="3.3" stroke="#ff0000" stroke-width="2.4" fill="none"/>
<circle cx="328.8" cy="417.07" r="3.3" stroke="#ff0000" stroke-width="2.4" fill="none"/>
<circle cx="353.33" cy="473.19" r="3.3" stroke="#ff0000" stroke-width="2.4" fill="none"/>
<circle cx="377.87" cy="502.31" r="3.3" stroke="#ff0000" stroke-width="2.4" fill="none"/>
<circle cx="402.4" cy="504.18" r="3.3" stroke="#ff0000" stroke-width="2.4" fill="none"/>
<circle cx="426.93" cy="496.2" r="3.3" stroke="#ff0000" stroke-width="2.4" fill="none"/>
<circle cx="451.47" cy="438.67" r="3.3" stroke="#ff0000" stroke-width="2.4" fill="none"/>
<circle cx="476" cy="419.66" r="3.3" stroke="#ff0000" stroke-width="2.4" fill="none"/>
<circle cx="500.53" cy="426.93" r="3.3" stroke="#ff0000" stroke-width="2.4" fill="none"/>
<circle cx="525.07" cy="439.85" r="3.3" stroke="#ff0000" stroke-width="2.4" fill="none"/>
<circle cx="549.6" cy="451.59" r="3.3" stroke="#ff0000" stroke-width="2.4" fill="none"/>
<circle cx="574.13" cy="468.26" r="3.3" stroke="#ff0000" stroke-width="2.4" fill="none"/>
<circle cx="598.67" cy="483.99" r="3.3" stroke="#ff0000" stroke-width="2.4" fill="none"/>
<circle cx="623.2" cy="490.57" r="3.3" stroke="#ff0000" stroke-width="2.4" fill="none"/>
<circle cx="647.73" cy="491.03" r="3.3" stroke="#ff0000" stroke-width="2.4" fill="none"/>
<circle cx="672.27" cy="486.81" r="3.3" stroke="#ff0000" stroke-width="2.4" fill="none"/>
<circle cx="696.8" cy="471.55" r="3.3" stroke="#ff0000" stroke-width="2.4" fill="none"/>
<circle cx="721.33" cy="452.76" r="3.3" stroke="#ff0000" stroke-width="2.4" fill="none"/>
<circle cx="745.87" cy="435.86" r="3.3" stroke="#ff0000" stroke-width="2.4" fill="none"/>
<circle cx="770.4" cy="422.94" r="3.3" stroke="#ff0000" stroke-width="2.4" fill="none"/>
<circle cx="794.93" cy="408.39" r="3.3" stroke="#ff0000" stroke-width="2.4" fill="none"/>
<circle cx="819.47" cy="401.11" r="3.3" stroke="#ff0000" stroke-width="2.4" fill="none"/>
<circle cx="844" cy="392.65" r="3.3" stroke="#ff0000" stroke-width="2.4" fill="none"/>
<text transform="scale(0.88 1)" x="60.26 75.41 91.28" y="383.1">1.0</text>
<text transform="scale(0.88 1)" x="59.92 75.76 90.94" y="430.06">0.8</text>
<text transform="scale(0.88 1)" x="59.92 75.76 90.94" y="477.02">0.6</text>
<text transform="scale(0.88 1)" x="59.92 75.76 90.94" y="523.98">0.4</text>
<text transform="scale(0.88 1)" x="59.92 75.76 90.94" y="570.94">0.2</text>
<text transform="scale(0.88 1)" x="94.24" y="617.9">0</text>
<text transform="scale(0.88 1)" x="113.78" y="644.9">0</text>
<text transform="scale(0.88 1)" x="253.18" y="644.9">5</text>
<text transform="scale(0.88 1)" x="384.9 400.24" y="644.9">10</text>
<text transform="scale(0.88 1)" x="524.3 539.64" y="644.9">15</text>
<text transform="scale(0.88 1)" x="663.69 679.03" y="644.9">20</text>
<text transform="scale(0.88 1)" x="803.08 818.42" y="644.9">25</text>
<text transform="scale(0.88 1)" x="942.48 957.82" y="644.9">30</text>
<rect x="115.5" y="492.0" width="176.9" height="108.4" fill="#fff" stroke="#262626" stroke-width="1.1"/>
<line x1="122.7" y1="512.4" x2="190.3" y2="512.4" stroke="#0000ff" stroke-width="2.1"/>
<path d="M152.03 512.4H160.77M156.4 508.03V516.77M153.17 509.17L159.63 515.63M153.17 515.63L159.63 509.17" stroke="#0000ff" stroke-width="2.2" fill="none"/>
<text transform="scale(0.74 1)" x="263.99 281.19 300.86" y="521.7" font-size="27.8" stroke="#000" stroke-width="0.45">FCL</text>
<line x1="122.7" y1="546.5" x2="190.3" y2="546.5" stroke="#9000ff" stroke-width="2.1"/>
<polygon points="156.4,541.37 157.83,544.03 160.84,543.93 159.25,546.5 160.84,549.07 157.83,548.97 156.4,551.63 154.97,548.97 151.96,549.07 153.55,546.5 151.96,543.93 154.97,544.03" fill="#9000ff" stroke="#9000ff" stroke-width="1"/>
<text transform="scale(0.74 1)" x="263.56 282.47 300.01 316.29" y="555.8" font-size="27.8" stroke="#000" stroke-width="0.45">LSTM</text>
<line x1="122.7" y1="580.6" x2="190.3" y2="580.6" stroke="#ff0000" stroke-width="2.1"/>
<circle cx="156.4" cy="580.6" r="3.13" stroke="#ff0000" stroke-width="2.2" fill="none"/>
<text transform="scale(0.74 1)" x="262.63 286.78 300.86 319.77 337.3 353.59" y="589.9" font-size="27.8" stroke="#000" stroke-width="0.45">BiLSTM</text>
</g>
<text font-family="'Liberation Serif', 'Noto Serif CJK SC', serif" font-size="29.5" fill="#000" transform="scale(0.91 1)" x="469.67 502.97 536.59 567.58" y="330.8" text-anchor="middle">采样时刻</text>
<text font-family="'Liberation Serif', 'Noto Serif CJK SC', serif" font-size="29.5" fill="#000" transform="rotate(-90) scale(0.91 1)" x="-271.32 -237.58 -211.54 -184.95 -150.66 -116.81 -82.31 -49.12" y="38" text-anchor="middle">目标1关联正确率</text>
<text font-family="'Liberation Serif', 'Noto Serif CJK SC', serif" font-size="29.5" fill="#000" transform="rotate(-90) scale(0.91 1)" x="-658.13 -624.4 -598.35 -571.76 -537.47 -503.63 -469.12 -435.93" y="38" text-anchor="middle">目标2关联正确率</text>
</svg>
</body></html>
